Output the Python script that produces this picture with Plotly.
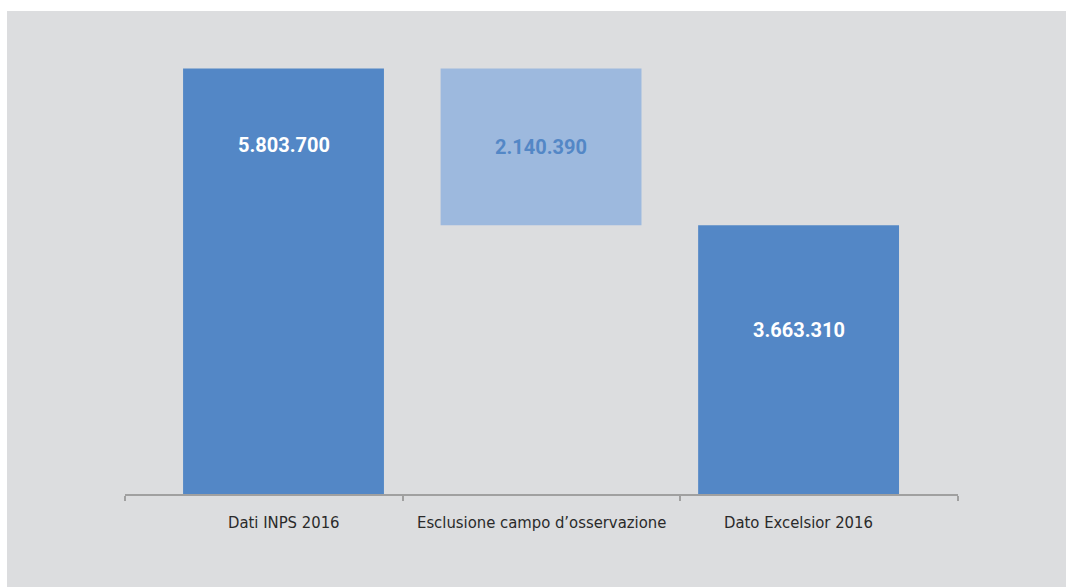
import plotly.graph_objects as go

categories = ["Dati INPS 2016", "Esclusione campo d\u2019osservazione", "Dato Excelsior 2016"]
values = [5803700, 2140390, 3663310]
bases = [0, 3663310, 0]
value_labels = ["5.803.700", "2.140.390", "3.663.310"]

dark = "#5387C6"
light = "#9DB9DE"
colors = [dark, light, dark]
label_colors = ["white", dark, "white"]
label_frac = [0.82, 0.5, 0.61]

pos = list(range(len(categories)))
x_lo, x_hi = -0.6155, 2.619
n_slots = len(categories)
slot_ticks = [x_lo + k * (x_hi - x_lo) / n_slots for k in range(n_slots + 1)]

fig = go.Figure()
fig.add_trace(go.Bar(
    x=pos, y=values, base=bases, width=0.78,
    marker=dict(color=colors, line=dict(width=0)),
    hoverinfo="skip",
))

for p, v, b, t, lc, f in zip(pos, values, bases, value_labels, label_colors, label_frac):
    fig.add_annotation(
        x=p, y=b + v * f, text=t, showarrow=False,
        font=dict(family="Roboto, Arial, sans-serif", size=20, color=lc, weight="bold"),
        xanchor="center", yanchor="middle",
    )

for p, c in zip(pos, categories):
    fig.add_annotation(
        x=p, xref="x", y=0, yref="paper", text=c, showarrow=False,
        xanchor="center", yanchor="middle", yshift=-28,
        font=dict(family="Liberation Sans Narrow, DejaVu Sans Condensed, Roboto Condensed, DejaVu Sans",
                  size=16.5, color="#2a2a2a"),
    )

W, H = 1066, 587
l, r, t, b = 125, 108, 54, 93
pw, ph = W - l - r, H - t - b
fig.add_shape(type="rect", xref="paper", yref="paper",
              x0=(7 - l) / pw, x1=(W - l) / pw,
              y0=(H - b - 587) / ph, y1=(H - b - 11) / ph,
              fillcolor="#DCDDDF", line=dict(width=0), layer="below")

fig.update_layout(
    width=W, height=H,
    margin=dict(l=l, r=r, t=t, b=b, autoexpand=False),
    paper_bgcolor="white", plot_bgcolor="#DCDDDF",
    showlegend=False,
    xaxis=dict(
        range=[x_lo, x_hi],
        showline=True, linecolor="#A0A0A0", linewidth=1.5,
        ticks="outside", ticklen=5, tickcolor="#A0A0A0", tickwidth=1.5,
        tickvals=slot_ticks, ticktext=[""] * len(slot_ticks),
        automargin=False, showgrid=False, zeroline=False,
    ),
    yaxis=dict(range=[0, 6000000], visible=False, showgrid=False, zeroline=False),
)

fig.write_html("out.html", config={"displayModeBar": False},
               post_script="document.body.style.margin='0';document.body.style.overflow='hidden';")
